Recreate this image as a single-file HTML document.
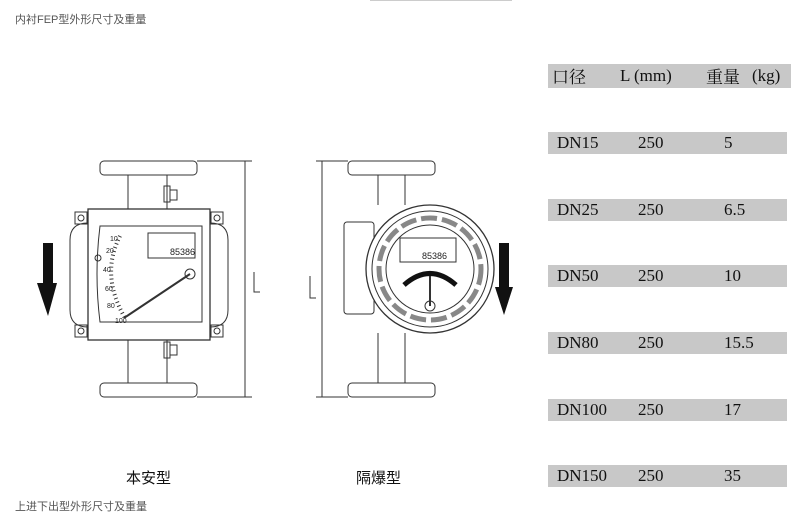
<!DOCTYPE html>
<html><head><meta charset="utf-8"><style>
body{margin:0;width:800px;height:521px;background:#fff;position:relative;overflow:hidden;font-family:"Liberation Serif","Noto Serif CJK SC",serif}
.cap{position:absolute;font-family:"Liberation Sans","Noto Sans CJK SC",sans-serif;font-size:11px;color:#555}
.bar{position:absolute;left:548px;width:239px;height:22px;background:#c8c8c8;font-size:17px;color:#111;line-height:22px}
.bar span{position:absolute}
.lbl{position:absolute;font-family:"Liberation Sans","Noto Sans CJK SC",sans-serif;font-size:15px;color:#111}
</style></head><body>
<div style="position:absolute;left:370px;top:0;width:142px;height:1px;background:#ccc"></div>
<div class="cap" style="left:15px;top:11px">内衬FEP型外形尺寸及重量</div>
<div class="cap" style="left:15px;top:498px">上进下出型外形尺寸及重量</div>
<div class="bar" style="top:64px;width:243px;height:24px;line-height:24px"><span style="left:4px;font-family:'Noto Serif CJK SC',serif">口径</span><span style="left:72px">L (mm)</span><span style="left:158px;font-family:'Noto Serif CJK SC',serif">重量</span><span style="left:204px">(kg)</span></div>
<div class="bar" style="top:132px"><span style="left:9px">DN15</span><span style="left:90px">250</span><span style="left:176px">5</span></div>
<div class="bar" style="top:199px"><span style="left:9px">DN25</span><span style="left:90px">250</span><span style="left:176px">6.5</span></div>
<div class="bar" style="top:265px"><span style="left:9px">DN50</span><span style="left:90px">250</span><span style="left:176px">10</span></div>
<div class="bar" style="top:332px"><span style="left:9px">DN80</span><span style="left:90px">250</span><span style="left:176px">15.5</span></div>
<div class="bar" style="top:399px"><span style="left:9px">DN100</span><span style="left:90px">250</span><span style="left:176px">17</span></div>
<div class="bar" style="top:465px"><span style="left:9px">DN150</span><span style="left:90px">250</span><span style="left:176px">35</span></div>
<div class="lbl" style="left:126px;top:467px">本安型</div>
<div class="lbl" style="left:356px;top:467px">隔爆型</div>
<svg width="800" height="521" style="position:absolute;left:0;top:0" fill="none" stroke="#333" stroke-width="1">
<rect x="100" y="161" width="97" height="14" rx="4"/>
<rect x="100" y="383" width="97" height="14" rx="4"/>
<line x1="128" y1="175" x2="128" y2="209"/><line x1="167" y1="175" x2="167" y2="209"/>
<line x1="128" y1="340" x2="128" y2="383"/><line x1="167" y1="340" x2="167" y2="383"/>
<rect x="164" y="186" width="6" height="16"/><rect x="170" y="190" width="7" height="10"/>
<rect x="164" y="342" width="6" height="16"/><rect x="170" y="345" width="7" height="10"/>
<rect x="88" y="209" width="122" height="131" stroke-width="1.3"/>
<path d="M88 223 Q70 223 70 240 L70 310 Q70 327 88 327"/>
<path d="M210 223 Q228 223 228 240 L228 310 Q228 327 210 327"/>
<rect x="75" y="212" width="12" height="12"/><circle cx="81" cy="218" r="3"/>
<rect x="211" y="212" width="12" height="12"/><circle cx="217" cy="218" r="3"/>
<rect x="75" y="325" width="12" height="12"/><circle cx="81" cy="331" r="3"/>
<rect x="211" y="325" width="12" height="12"/><circle cx="217" cy="331" r="3"/>
<path d="M100 226 L202 226 L202 322 L100 322 Q94 274 100 226Z"/>
<rect x="148" y="233" width="47" height="25"/>
<text x="170" y="255" font-size="9" fill="#222" stroke="none" font-family="Liberation Sans">85386</text>
<path d="M120 236 Q100 275 125 318" stroke-width="4" stroke-dasharray="1 3"/>
<line x1="124" y1="318" x2="190" y2="274" stroke-width="2"/>
<circle cx="190" cy="274" r="5"/>
<g font-size="7" fill="#222" stroke="none" font-family="Liberation Sans"><text x="110" y="241">10</text><text x="106" y="253">20</text><text x="103" y="272">40</text><text x="105" y="291">60</text><text x="107" y="308">80</text><text x="115" y="323">100</text></g>
<circle cx="98" cy="258" r="3"/>
<line x1="245" y1="161" x2="245" y2="397"/><line x1="197" y1="161" x2="252" y2="161"/><line x1="197" y1="397" x2="252" y2="397"/>
<path d="M254 272 V292 H260"/>
<path d="M43 243 H53 V283 H57 L48 316 L37 283 H43Z" fill="#111" stroke="none"/>
<rect x="348" y="161" width="87" height="14" rx="4"/>
<rect x="348" y="383" width="87" height="14" rx="4"/>
<line x1="378" y1="175" x2="378" y2="205"/><line x1="405" y1="175" x2="405" y2="205"/>
<line x1="378" y1="333" x2="378" y2="383"/><line x1="405" y1="333" x2="405" y2="383"/>
<rect x="344" y="222" width="30" height="92" rx="3"/>
<circle cx="430" cy="269" r="64" fill="#fff" stroke-width="1.3"/>
<circle cx="430" cy="269" r="58"/>
<circle cx="430" cy="269" r="44"/>
<circle cx="430" cy="269" r="51" stroke-width="5" stroke="#888" stroke-dasharray="16 5"/>
<rect x="400" y="238" width="56" height="24"/>
<text x="422" y="259" font-size="9" fill="#222" stroke="none" font-family="Liberation Sans">85386</text>
<path d="M404 285 Q430 262 456 285" stroke="#111" stroke-width="5"/>
<line x1="430" y1="306" x2="430" y2="276" stroke-width="2"/>
<circle cx="430" cy="306" r="5"/>
<line x1="322" y1="161" x2="322" y2="397"/><line x1="316" y1="161" x2="348" y2="161"/><line x1="316" y1="397" x2="348" y2="397"/>
<path d="M310 276 V298 H316"/>
<path d="M499 243 H509 V287 H513 L504 315 L495 287 H499Z" fill="#111" stroke="none"/>
</svg>
</body></html>
